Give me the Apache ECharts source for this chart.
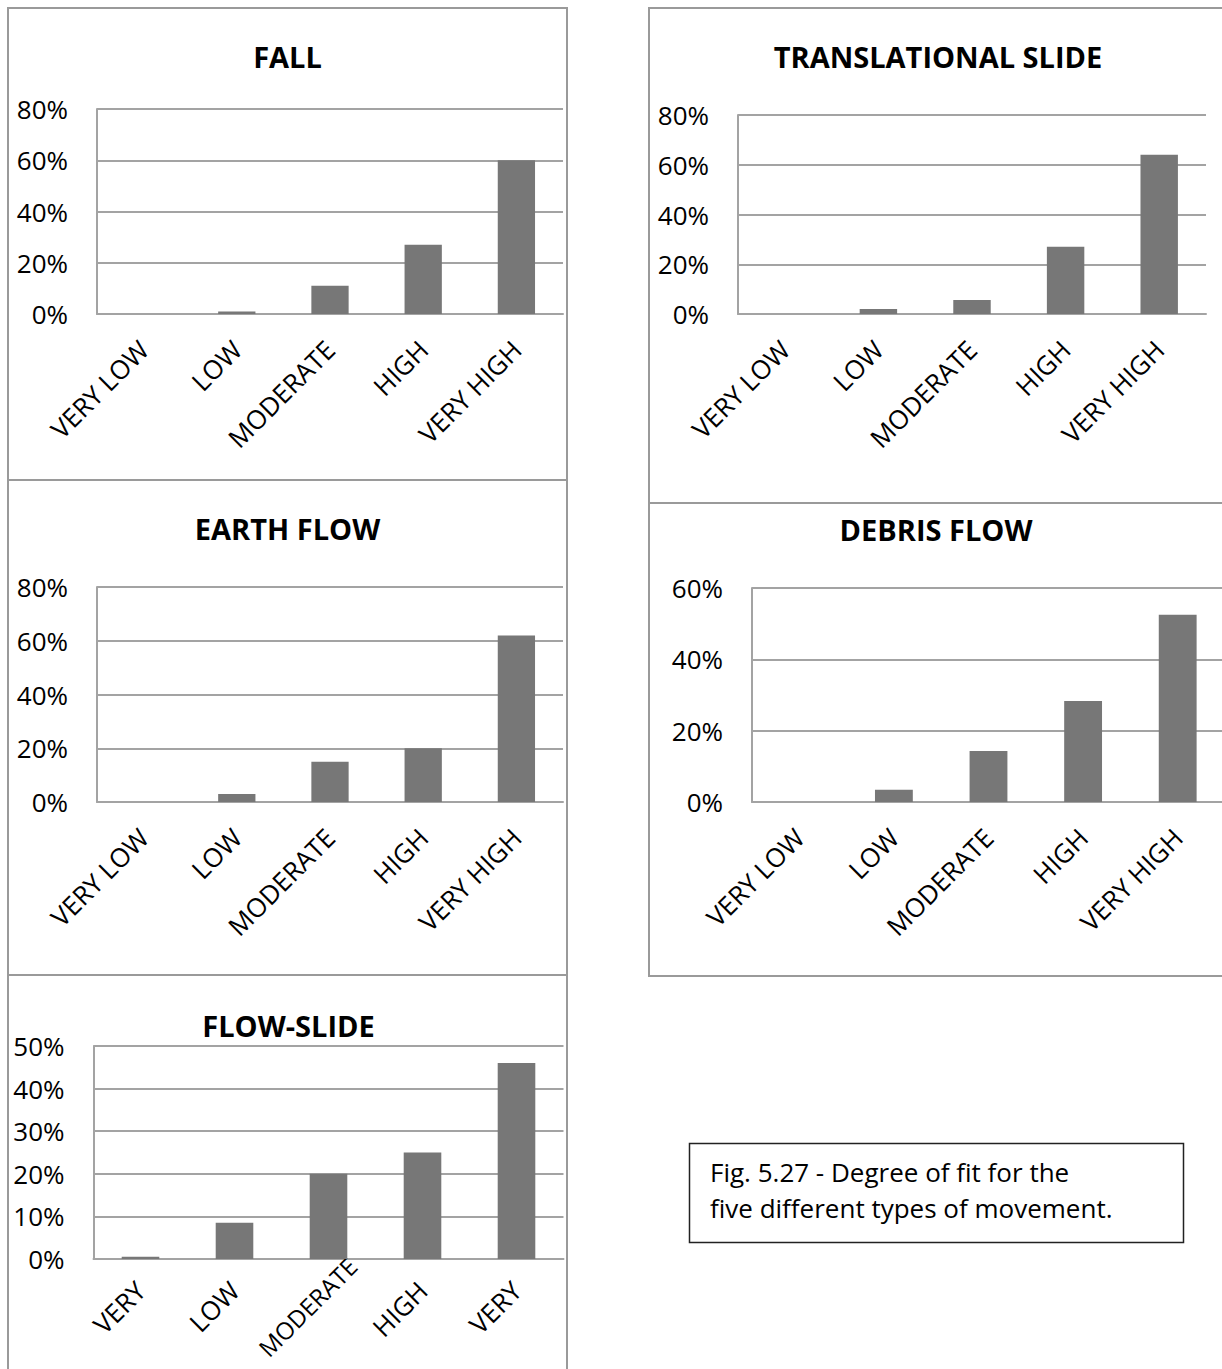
<!DOCTYPE html>
<html>
<head>
<meta charset="utf-8">
<script src="https://cdn.jsdelivr.net/npm/echarts@6/dist/echarts.min.js"></script>
<style>
html,body{margin:0;padding:0;background:#fff;}
#chart{width:1222px;height:1369px;}
</style>
</head>
<body>
<div id="chart"></div>
<script>
// ---- data ----
const categories = ['VERY LOW', 'LOW', 'MODERATE', 'HIGH', 'VERY HIGH'];
const flowSlideCategories = ['VERY', 'LOW', 'MODERATE', 'HIGH', 'VERY'];
const titles = ['FALL', 'TRANSLATIONAL SLIDE', 'EARTH FLOW', 'DEBRIS FLOW', 'FLOW-SLIDE'];
const fallValues = [0, 1, 11, 27, 60];
const translationalValues = [0, 2, 5.6, 27, 64];
const earthFlowValues = [0, 3, 15, 20, 62];
const debrisFlowValues = [0, 3.4, 14.3, 28.3, 52.5];
const flowSlideValues = [0.5, 8.5, 20, 25, 46];
const yMax = [80, 80, 80, 60, 50];
const yInterval = [20, 20, 20, 20, 10];
const caption = ['Fig. 5.27 - Degree of fit for the', 'five different types of movement.'];

const seriesValues = [fallValues, translationalValues, earthFlowValues, debrisFlowValues, flowSlideValues];
const seriesCats = [categories, categories, categories, categories, flowSlideCategories];

// ---- layout ----
const grids = [
  {left: 97, top: 109, width: 466, height: 205},
  {left: 738, top: 115, width: 468, height: 199},
  {left: 97, top: 587, width: 466, height: 215},
  {left: 752, top: 588, width: 473, height: 214},
  {left: 93.5, top: 1046, width: 470, height: 213}
];
const titlePos = [[287.5, 58], [938, 58], [287.5, 530], [936, 531], [288.5, 1027]];
const xLabelMargin = [31, 31, 31, 31, 27];

const FONT = '"Open Sans", "Noto Sans", sans-serif';
const GRID_COLOR = '#a3a3a3';
const BAR_COLOR = '#777777';

// In the FLOW-SLIDE panel the long MODERATE label sits further up along its slope
function axisData(i) {
  return seriesCats[i].map(c => (i === 4 && c === 'MODERATE')
    ? {value: c, textStyle: {fontSize: 24, padding: [0, -34, 0, 0]}}
    : c);
}

const option = {
  animation: false,
  backgroundColor: '#ffffff',
  title: titles.map((t, i) => ({
    text: t,
    left: titlePos[i][0],
    top: titlePos[i][1] - 16,
    textAlign: 'center',
    padding: 0,
    textStyle: {fontFamily: FONT, fontWeight: 'bold', fontSize: 29, color: '#000'}
  })),
  grid: grids.map(g => Object.assign({containLabel: false, outerBoundsMode: 'none'}, g)),
  xAxis: grids.map((g, i) => ({
    type: 'category',
    gridIndex: i,
    data: axisData(i),
    axisLine: {lineStyle: {color: GRID_COLOR, width: 2}},
    axisTick: {show: false},
    axisLabel: {
      rotate: 45,
      interval: 0,
      margin: xLabelMargin[i],
      fontFamily: FONT,
      fontSize: 26,
      color: '#000'
    }
  })),
  yAxis: grids.map((g, i) => ({
    type: 'value',
    gridIndex: i,
    min: 0,
    max: yMax[i],
    interval: yInterval[i],
    axisLine: {show: true, lineStyle: {color: GRID_COLOR, width: 2}},
    axisTick: {show: false},
    splitLine: {lineStyle: {color: GRID_COLOR, width: 2}},
    axisLabel: {
      formatter: '{value}%',
      margin: 29,
      padding: [13, 0, 0, 0],
      fontFamily: FONT,
      fontSize: 26,
      color: '#000'
    }
  })),
  series: seriesValues.map((vals, i) => ({
    type: 'bar',
    xAxisIndex: i,
    yAxisIndex: i,
    data: vals,
    barCategoryGap: '60%',
    itemStyle: {color: BAR_COLOR},
    silent: true
  })),
  graphic: [
    {type: 'rect', shape: {x: 8, y: 8, width: 559, height: 472}, style: {fill: 'none', stroke: '#9a9a9a', lineWidth: 2}, z: -1},
    {type: 'rect', shape: {x: 8, y: 480, width: 559, height: 495}, style: {fill: 'none', stroke: '#9a9a9a', lineWidth: 2}, z: -1},
    {type: 'rect', shape: {x: 8, y: 975, width: 559, height: 420}, style: {fill: 'none', stroke: '#9a9a9a', lineWidth: 2}, z: -1},
    {type: 'rect', shape: {x: 649, y: 8, width: 600, height: 495}, style: {fill: 'none', stroke: '#9a9a9a', lineWidth: 2}, z: -1},
    {type: 'rect', shape: {x: 649, y: 503, width: 600, height: 473}, style: {fill: 'none', stroke: '#9a9a9a', lineWidth: 2}, z: -1},
    {type: 'rect', shape: {x: 689.5, y: 1143.5, width: 494, height: 99}, style: {fill: '#fff', stroke: '#222', lineWidth: 1.5}},
    {type: 'text', x: 710, y: 1172, style: {text: caption[0], font: '26px ' + FONT, fill: '#000', textVerticalAlign: 'middle'}},
    {type: 'text', x: 710, y: 1208, style: {text: caption[1], font: '26px ' + FONT, fill: '#000', textVerticalAlign: 'middle'}}
  ]
};

const chart = echarts.init(document.getElementById('chart'), null, {renderer: 'svg'});
chart.setOption(option);
</script>
</body>
</html>
